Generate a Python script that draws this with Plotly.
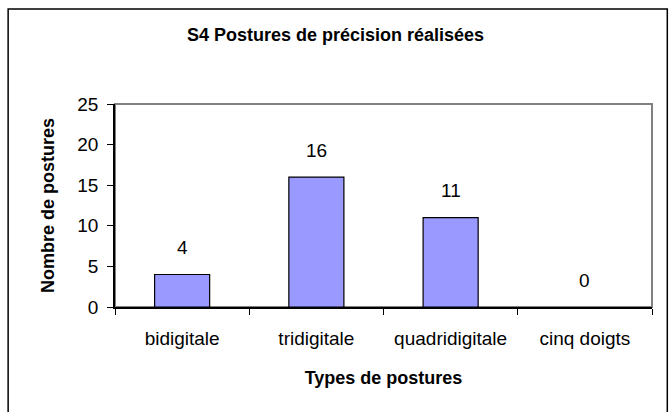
import plotly.graph_objects as go

# Donnees du graphique
categories = ["bidigitale", "tridigitale", "quadridigitale", "cinq doigts"]
postures = [4, 16, 11, 0]
y_ticks = [0, 5, 10, 15, 20, 25]

font = "Liberation Sans, Arial, sans-serif"

# Pas de contour pour une barre de hauteur nulle (comme dans Excel)
outline = [1.2 if v else 0 for v in postures]

fig = go.Figure()
fig.add_trace(go.Bar(
    x=categories, y=postures,
    marker=dict(color="#9999FF", line=dict(color="black", width=outline)),
    width=0.41,
    hoverinfo="skip",
))

# Etiquettes de valeurs au-dessus des barres
for cat, val in zip(categories, postures):
    fig.add_annotation(x=cat, y=val, text=str(val), showarrow=False,
                       yshift=27, font=dict(family=font, size=19, color="black"))

# Cadre de la zone de tracage (gris) et cadre du graphique (noir)
fig.add_shape(type="rect", xref="paper", yref="paper", x0=0, x1=1, y0=0, y1=1,
              line=dict(color="#808080", width=2), layer="below")
fig.add_shape(type="rect", xref="paper", yref="paper", x0=-0.199, x1=1.0285,
              y0=-0.55, y1=1.468, line=dict(color="black", width=1.5))

fig.update_layout(
    width=671, height=412,
    margin=dict(l=115, r=19, t=104, b=105),
    paper_bgcolor="white", plot_bgcolor="white",
    showlegend=False,
    font=dict(family=font, size=19, color="black"),
    title=dict(text="<b>S4 Postures de précision réalisées</b>",
               x=0.5, xanchor="center", y=0.915, yanchor="middle",
               font=dict(size=18)),
    bargap=0.59,
)
fig.update_xaxes(
    title=dict(text="<b>Types de postures</b>", standoff=24, font=dict(size=18)),
    showline=True, linecolor="black", linewidth=1.5,
    ticks="outside", ticklen=6, tickcolor="black", tickson="boundaries",
    ticklabelstandoff=13,
    showgrid=False, tickfont=dict(size=19),
)
fig.update_yaxes(
    title=dict(text="<b>Nombre de postures</b>", standoff=18, font=dict(size=18)),
    range=[0, 25], tickvals=y_ticks,
    showline=True, linecolor="black", linewidth=1.5,
    ticks="outside", ticklen=6, tickcolor="black",
    ticklabelstandoff=5,
    showgrid=False, zeroline=False, tickfont=dict(size=19),
)

fig.write_html("out.html", config={"displayModeBar": False},
               post_script="document.body.style.margin='0';")
